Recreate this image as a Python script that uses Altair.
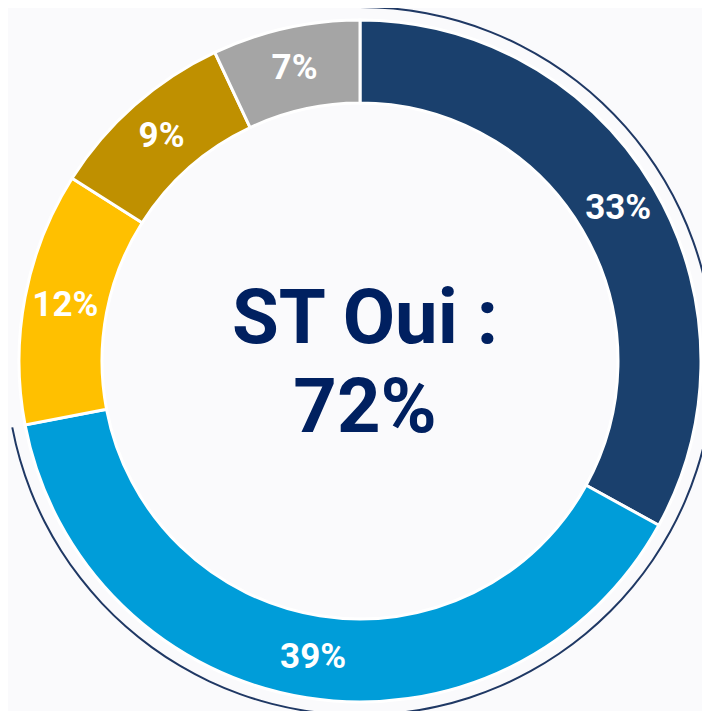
import altair as alt
import pandas as pd

categories = ["A", "B", "C", "D", "E"]
values = [33, 39, 12, 9, 7]
labels = ["33%", "39%", "12%", "9%", "7%"]
colors = ["#1A406D", "#009DD9", "#FFC000", "#BF9000", "#A5A5A5"]

oui_parts = ["Oui", "Autre"]
oui_values = [72, 28]
center_text = ["ST Oui :", "72%"]

df = pd.DataFrame({"cat": categories, "value": values, "label": labels,
                   "idx": list(range(len(categories)))})
df_oui = pd.DataFrame({"part": oui_parts, "value": oui_values, "idx": [0, 1]})

CX, CY = 352, 353

base = alt.Chart(df).encode(
    theta=alt.Theta("value:Q", stack=True, scale=alt.Scale(domain=[0, 100])),
    order=alt.Order("idx:Q"),
    x=alt.value(CX), y=alt.value(CY),
)

slices = base.mark_arc(outerRadius=341, innerRadius=258, stroke="white",
                       strokeWidth=3).encode(
    color=alt.Color("cat:N", scale=alt.Scale(domain=categories, range=colors),
                    legend=None)
)

text = base.mark_text(radius=300, font="Roboto", fontWeight="bold",
                      fontSize=35, color="white", baseline="middle",
                      align="center").encode(text="label:N")

ring = alt.Chart(df_oui).mark_arc(outerRadius=355, innerRadius=353).encode(
    theta=alt.Theta("value:Q", stack=True, scale=alt.Scale(domain=[0, 100])),
    order=alt.Order("idx:Q"),
    color=alt.Color("part:N", scale=alt.Scale(domain=oui_parts,
                                              range=["#1F3864", "transparent"]),
                    legend=None),
    x=alt.value(CX), y=alt.value(CY),
)

center = alt.Chart(pd.DataFrame({"t": ["\n".join(center_text)]})).mark_text(
    font="Roboto", fontWeight="bold", fontSize=76, color="#002060",
    lineBreak="\n", lineHeight=89, align="center", baseline="middle"
).encode(text="t:N", x=alt.value(CX + 5), y=alt.value(CY - 41))

chart = alt.layer(ring, slices, text, center).properties(
    width=694, height=703, padding=0, autosize="none", background="#FAFAFC"
).configure_view(stroke=None).resolve_scale(color="independent")

chart.save("out.html", embed_options={"renderer": "svg", "actions": False})
